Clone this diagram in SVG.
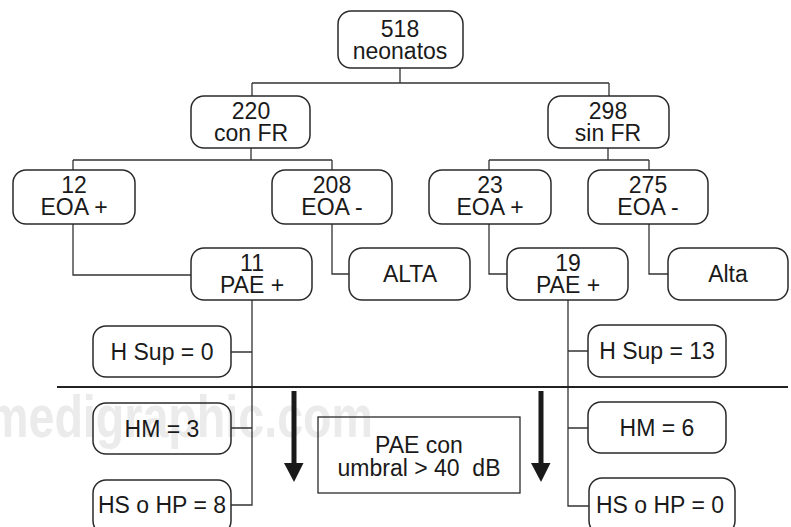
<svg xmlns="http://www.w3.org/2000/svg" width="791" height="527" viewBox="0 0 791 527">
<style>
.box{fill:none;stroke:#2a2a2a;stroke-width:1.5}
.sq{fill:none;stroke:#2a2a2a;stroke-width:1.3}
.t{font-family:"Liberation Sans",Arial,sans-serif;font-size:23px;fill:#1a1a1a;text-anchor:middle}
.c{fill:none;stroke:#333;stroke-width:1.3}
.wm{font-family:"Liberation Sans",Arial,sans-serif;font-weight:bold;font-size:60px;fill:#ebebeb}
</style>
<rect width="791" height="527" fill="#fff"/>
<text class="wm" x="-13" y="437" textLength="386" lengthAdjust="spacingAndGlyphs">medigraphic.com</text>
<g id="connectors">
<path class="c" d="M400 68V83M252 83H609M252 83V96M609 83V96"/>
<path class="c" d="M251 148V160M73 160H332M73 160V170M332 160V170"/>
<path class="c" d="M608 148V160M489 160H649M489 160V170M649 160V170"/>
<path class="c" d="M73 224V275H191M332 224V274H349M489 224V274H507M649 224V274H668"/>
<path class="c" d="M252 300V505H231M231 352H252M231 428H252"/>
<path class="c" d="M568 300V506H589M568 351H588M568 428H588"/>
<line x1="57" y1="387" x2="788" y2="387" stroke="#222" stroke-width="2.2"/>
<rect x="291.5" y="391" width="5" height="74" fill="#1a1a1a"/>
<polygon points="284,463 303.5,463 294,482" fill="#1a1a1a"/>
<rect x="538.5" y="391" width="5" height="74" fill="#1a1a1a"/>
<polygon points="531,463 550.5,463 541,482" fill="#1a1a1a"/>
</g>
<g id="n518"><rect class="box" x="338" y="11" width="125" height="57" rx="13"/><text class="t" x="400" y="37">518</text><text class="t" x="400" y="59">neonatos</text></g>
<g id="n220"><rect class="box" x="191" y="96" width="119" height="52" rx="13"/><text class="t" x="251" y="119">220</text><text class="t" x="251" y="141">con FR</text></g>
<g id="n298"><rect class="box" x="548" y="96" width="121" height="52" rx="13"/><text class="t" x="608" y="119">298</text><text class="t" x="608" y="141">sin FR</text></g>
<g id="n12"><rect class="box" x="13" y="170" width="122" height="54" rx="13"/><text class="t" x="74" y="193">12</text><text class="t" x="74" y="215">EOA +</text></g>
<g id="n208"><rect class="box" x="272" y="170" width="120" height="54" rx="13"/><text class="t" x="332" y="193">208</text><text class="t" x="332" y="215">EOA -</text></g>
<g id="n23"><rect class="box" x="429" y="170" width="122" height="54" rx="13"/><text class="t" x="490" y="193">23</text><text class="t" x="490" y="215">EOA +</text></g>
<g id="n275"><rect class="box" x="588" y="170" width="120" height="54" rx="13"/><text class="t" x="648" y="193">275</text><text class="t" x="648" y="215">EOA -</text></g>
<g id="n11"><rect class="box" x="191" y="248" width="121" height="52" rx="13"/><text class="t" x="252" y="271">11</text><text class="t" x="252" y="293">PAE +</text></g>
<g id="nALTA"><rect class="box" x="349" y="248" width="121" height="52" rx="13"/><text class="t" x="410" y="282">ALTA</text></g>
<g id="n19"><rect class="box" x="507" y="248" width="121" height="52" rx="13"/><text class="t" x="568" y="271">19</text><text class="t" x="568" y="293">PAE +</text></g>
<g id="nAlta"><rect class="box" x="668" y="248" width="120" height="52" rx="13"/><text class="t" x="728" y="282">Alta</text></g>
<g id="nHSup0"><rect class="box" x="93" y="326" width="138" height="51" rx="13"/><text class="t" x="162" y="360">H Sup = 0</text></g>
<g id="nHM3"><rect class="box" x="93" y="403" width="138" height="51" rx="13"/><text class="t" x="162" y="437">HM = 3</text></g>
<g id="nHS8"><rect class="box" x="93" y="480" width="138" height="54" rx="13"/><text class="t" x="162" y="513">HS o HP = 8</text></g>
<g id="nHSup13"><rect class="box" x="588" y="325" width="138" height="52" rx="13"/><text class="t" x="657" y="359">H Sup = 13</text></g>
<g id="nHM6"><rect class="box" x="588" y="402" width="138" height="51" rx="13"/><text class="t" x="657" y="436">HM = 6</text></g>
<g id="nHS0"><rect class="box" x="589" y="478" width="146" height="56" rx="13"/><text class="t" x="660" y="513">HS o HP = 0</text></g>
<g id="nPAE"><rect class="sq" x="318" y="417" width="202" height="76"/><text class="t" x="419" y="453">PAE con</text><text class="t" x="419" y="476" xml:space="preserve">umbral &gt; 40  dB</text></g>
</svg>
